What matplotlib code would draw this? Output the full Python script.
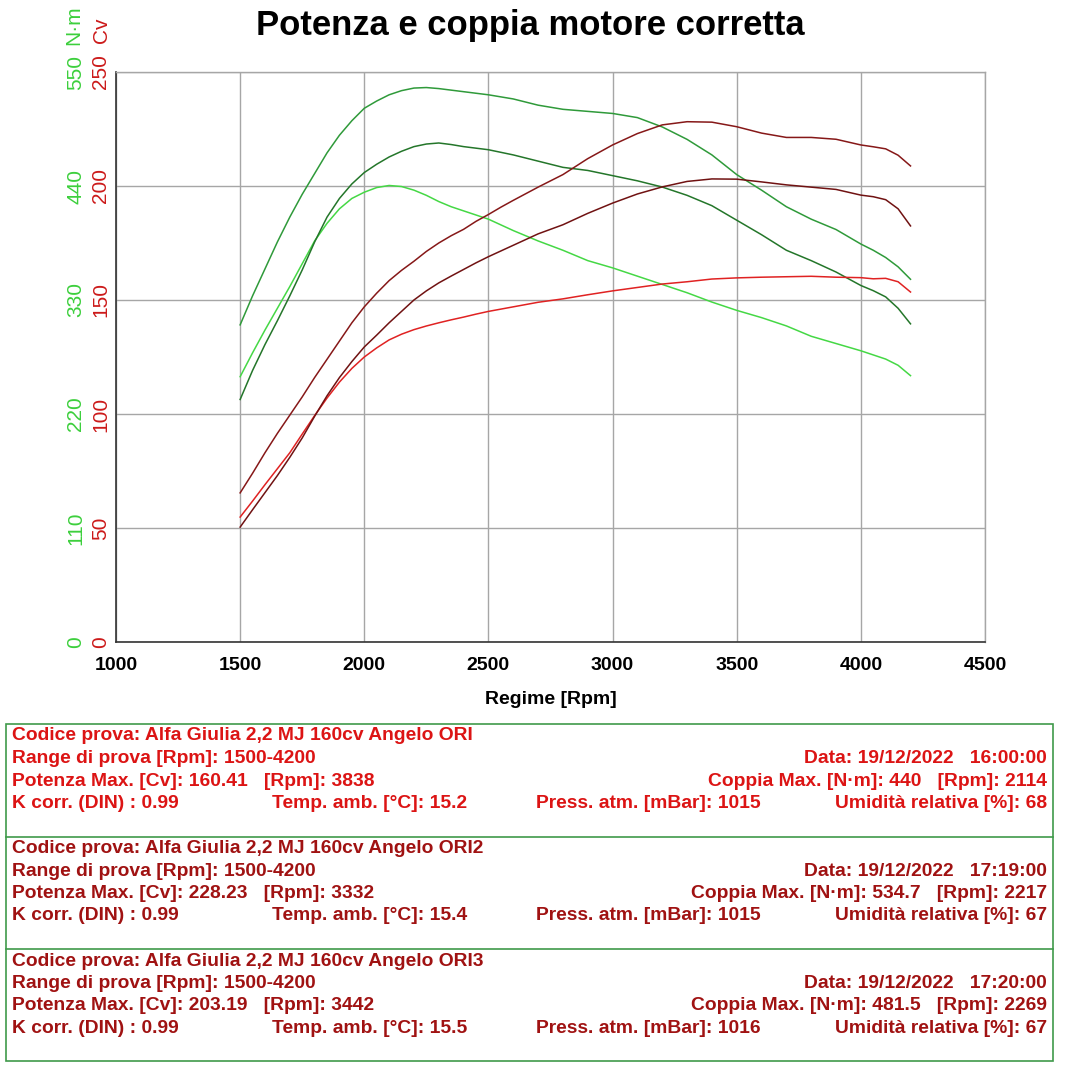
import matplotlib
matplotlib.use("Agg")
import matplotlib.pyplot as plt
from matplotlib.patches import Rectangle
from matplotlib.lines import Line2D

plt.rcParams['font.family'] = ['Liberation Sans', 'DejaVu Sans']

# ---------------- data ----------------
rpm = [1500, 1550, 1600, 1650, 1700, 1750, 1800, 1850, 1900, 1950, 2000, 2050,
       2100, 2150, 2200, 2250, 2300, 2350, 2400, 2450, 2500, 2550, 2600,
       2700, 2800, 2900, 3000, 3100, 3200, 3300, 3400, 3500, 3600, 3700, 3800,
       3900, 4000, 4050, 4100, 4150, 4200]

# Run ORI
torque_ori = [256, 279, 301, 322, 343, 365, 387, 404, 418, 428, 434, 438.5,
              440.5, 439.5, 436, 431, 425, 420, 416, 412, 408, 402.5, 397,
              387, 378, 368, 361, 353, 345, 337, 328, 320, 313, 305, 295,
              288, 281, 277, 273, 267, 257]
power_ori = [54.8, 61.8, 69, 76, 83, 91.2, 99.3, 107, 114, 120, 125, 129,
             132.5, 135, 137, 138.6, 140, 141.3, 142.5, 143.8, 145, 146, 147,
             149, 150.5, 152.3, 154, 155.5, 157, 158, 159.2, 159.7, 160, 160.2, 160.4,
             160, 159.8, 159.3, 159.5, 158, 153.5]

# Run ORI2
torque_ori2 = [306, 334, 360, 386, 410, 432, 452, 472, 489, 503, 515, 522,
               528, 532, 534.5, 535, 534, 532.5, 531, 529.5, 528, 526, 524,
               518, 514, 512, 510, 506, 497, 485, 470, 451, 436, 420, 408,
               398, 384, 378, 371, 362, 350]
power_ori2 = [65.4, 74, 83, 91.5, 99.5, 107.5, 116, 124, 132, 140, 147, 153,
              158.5, 163, 167, 171.3, 175, 178.2, 181, 184.5, 187.5, 190.7, 193.7,
              199.5, 205, 212, 218, 223, 226.8, 228.2, 228, 226, 223.2, 221.3, 221.3,
              220.5, 218, 217.2, 216.3, 213.5, 208.8]

# Run ORI3
torque_ori3 = [234, 262, 287, 310, 334, 359, 386, 410, 428, 442, 453, 461,
               468, 473.5, 478, 480.5, 481.5, 480, 478, 476.5, 475, 472.5, 470,
               464, 458, 455, 450, 445, 439, 431, 421, 407, 393, 378, 368,
               357, 344, 339, 333, 322, 307]
power_ori3 = [50.4, 58, 65.5, 73, 81, 89.5, 99, 108, 116, 123, 129.4, 134.6,
              140, 145, 150, 154, 157.5, 160.5, 163.4, 166.3, 169, 171.5, 174,
              179, 183, 188, 192.5, 196.5, 199.6, 202, 203.1, 203, 201.8, 200.5, 199.5,
              198.5, 196, 195.3, 194, 190, 182.5]

x_ticks = [1000, 1500, 2000, 2500, 3000, 3500, 4000, 4500]
cv_ticks = [0, 50, 100, 150, 200, 250]
nm_ticks = [0, 110, 220, 330, 440, 550]

title = "Potenza e coppia motore corretta"
x_label = "Regime [Rpm]"

info_blocks = [
    dict(code="Codice prova: Alfa Giulia 2,2 MJ 160cv Angelo ORI",
         rng="Range di prova [Rpm]: 1500-4200",
         date="Data: 19/12/2022   16:00:00",
         pmax="Potenza Max. [Cv]: 160.41   [Rpm]: 3838",
         cmax="Coppia Max. [N\u00b7m]: 440   [Rpm]: 2114",
         k="K corr. (DIN) : 0.99", temp="Temp. amb. [\u00b0C]: 15.2",
         press="Press. atm. [mBar]: 1015", hum="Umidit\u00e0 relativa [%]: 68"),
    dict(code="Codice prova: Alfa Giulia 2,2 MJ 160cv Angelo ORI2",
         rng="Range di prova [Rpm]: 1500-4200",
         date="Data: 19/12/2022   17:19:00",
         pmax="Potenza Max. [Cv]: 228.23   [Rpm]: 3332",
         cmax="Coppia Max. [N\u00b7m]: 534.7   [Rpm]: 2217",
         k="K corr. (DIN) : 0.99", temp="Temp. amb. [\u00b0C]: 15.4",
         press="Press. atm. [mBar]: 1015", hum="Umidit\u00e0 relativa [%]: 67"),
    dict(code="Codice prova: Alfa Giulia 2,2 MJ 160cv Angelo ORI3",
         rng="Range di prova [Rpm]: 1500-4200",
         date="Data: 19/12/2022   17:20:00",
         pmax="Potenza Max. [Cv]: 203.19   [Rpm]: 3442",
         cmax="Coppia Max. [N\u00b7m]: 481.5   [Rpm]: 2269",
         k="K corr. (DIN) : 0.99", temp="Temp. amb. [\u00b0C]: 15.5",
         press="Press. atm. [mBar]: 1016", hum="Umidit\u00e0 relativa [%]: 67"),
]

# ---------------- styles ----------------
W, H = 1080, 1079
NM_PER_CV = 2.2
grid_col = '#a6a6a6'
red_lbl = '#cc1a1a'
green_lbl = '#3ccf3c'
box_col = '#3f9a4a'
text_cols = ['#dc1414', '#a01212', '#a01212']

fig = plt.figure(figsize=(W / 100, H / 100), dpi=100)
fig.patch.set_facecolor('white')


def fx(x):
    return x / W


def fy(y):
    return 1 - y / H


ax = fig.add_axes([fx(116), fy(642), 869 / W, 570 / H])
ax.set_xlim(1000, 4500)
ax.set_ylim(0, 250)

ax.set_xticks(x_ticks)
ax.set_xticklabels([str(v) for v in x_ticks], fontsize=14, fontweight='bold')
ax.set_yticks(cv_ticks)
ax.set_yticklabels([str(v) for v in cv_ticks], fontsize=15, color=red_lbl,
                   rotation=90, va='center')
ax.tick_params(axis='both', length=0)
ax.tick_params(axis='x', pad=11)
ax.tick_params(axis='y', pad=4)
ax.grid(True, color=grid_col, linewidth=1.0)
ax.set_axisbelow(True)
for s in ['top', 'right']:
    ax.spines[s].set_color(grid_col)
    ax.spines[s].set_linewidth(1.0)
for s in ['left', 'bottom']:
    ax.spines[s].set_color('#333333')
    ax.spines[s].set_linewidth(1.2)

sec = ax.secondary_yaxis('left', functions=(lambda c: c * NM_PER_CV,
                                             lambda n: n / NM_PER_CV))
sec.set_yticks(nm_ticks)
sec.set_yticklabels([str(v) for v in nm_ticks], fontsize=15, color=green_lbl,
                    rotation=90, va='center')
sec.tick_params(axis='y', length=0, pad=22)
sec.spines['left'].set_visible(False)


def nm_to_cv(vals):
    return [v / NM_PER_CV for v in vals]


lw = 1.1
ax.plot(rpm, nm_to_cv(torque_ori), color='#45d845', lw=lw)
ax.plot(rpm, nm_to_cv(torque_ori2), color='#2f9a3a', lw=lw)
ax.plot(rpm, nm_to_cv(torque_ori3), color='#24762a', lw=lw)
ax.plot(rpm, power_ori, color='#e02222', lw=lw)
ax.plot(rpm, power_ori2, color='#861818', lw=lw)
ax.plot(rpm, power_ori3, color='#701212', lw=lw)

ax.set_xlabel(x_label, fontsize=14, fontweight='bold', labelpad=12)

# unit labels above the y axes
ax.annotate("N\u00b7m", xy=(0, 1), xycoords='axes fraction',
            xytext=(73.5 - 116, 27), textcoords='offset pixels',
            rotation=90, ha='center', va='bottom', fontsize=15, color=green_lbl)
ax.annotate("Cv", xy=(0, 1), xycoords='axes fraction',
            xytext=(101.5 - 116, 29), textcoords='offset pixels',
            rotation=90, ha='center', va='bottom', fontsize=15, color=red_lbl)

fig.text(fx(530), fy(26), title, ha='center', va='center',
         fontsize=24.9, fontweight='bold', color='black')

# ---------------- info box ----------------
fig.patches.append(Rectangle((fx(6), fy(1061)), 1047 / W, 337 / H,
                             transform=fig.transFigure, fill=False,
                             edgecolor=box_col, linewidth=1.2))
for yl in [837, 949]:
    fig.lines.append(Line2D([fx(6), fx(1053)], [fy(yl), fy(yl)],
                            transform=fig.transFigure, color=box_col, linewidth=1.2))

fs = 13.9
for i, b in enumerate(info_blocks):
    y0 = 736 + i * 112.5
    c = text_cols[i]
    kw = dict(fontsize=fs, fontweight='bold', color=c, va='center')
    fig.text(fx(12), fy(y0), b['code'], ha='left', **kw)
    fig.text(fx(12), fy(y0 + 22.5), b['rng'], ha='left', **kw)
    fig.text(fx(1047), fy(y0 + 22.5), b['date'], ha='right', **kw)
    fig.text(fx(12), fy(y0 + 45), b['pmax'], ha='left', **kw)
    fig.text(fx(1047), fy(y0 + 45), b['cmax'], ha='right', **kw)
    fig.text(fx(12), fy(y0 + 67.5), b['k'], ha='left', **kw)
    fig.text(fx(272), fy(y0 + 67.5), b['temp'], ha='left', **kw)
    fig.text(fx(536), fy(y0 + 67.5), b['press'], ha='left', **kw)
    fig.text(fx(1047), fy(y0 + 67.5), b['hum'], ha='right', **kw)

fig.savefig('out.png', dpi=100, facecolor='white')
